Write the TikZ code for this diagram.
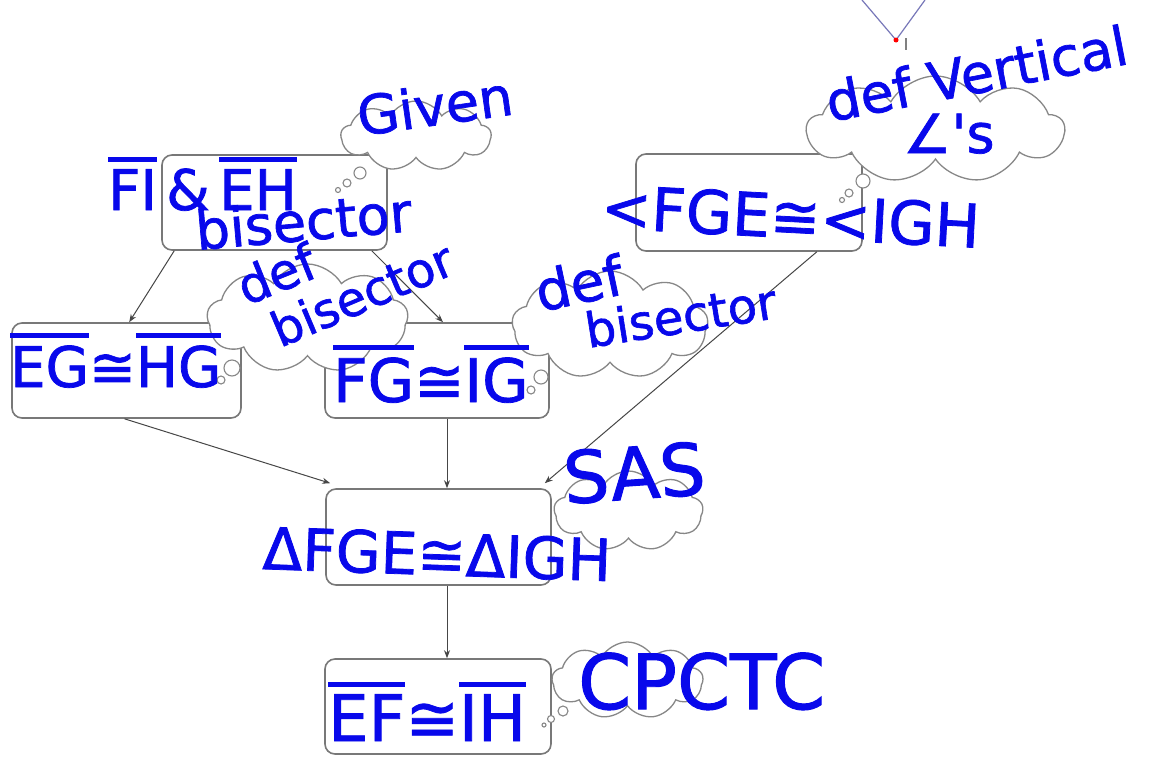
\documentclass[tikz,border=0pt]{standalone}
\usepackage{fontspec}
\setmainfont{DejaVu Sans}
\newfontfamily\handfont{DejaVu Sans}[FakeBold=1.3]
\usetikzlibrary{shapes.symbols,arrows.meta}
\definecolor{handblue}{RGB}{8,8,235}
\definecolor{boxgray}{RGB}{120,120,120}
\definecolor{cloudgray}{RGB}{135,135,135}
\definecolor{arrgray}{RGB}{70,70,70}
\definecolor{vlinecol}{RGB}{120,120,185}
\newcommand\ovl[1]{\leavevmode\vbox{\hrule height 5.5pt\kern 7pt\hbox{#1}}}
\newcommand\hs[1]{\handfont\fontsize{#1}{#1}\selectfont}
\begin{document}
\begin{tikzpicture}[x=1pt,y=-1pt,
 proofbox/.style={draw=boxgray,line width=1.6pt,rounded corners=10pt,fill=white,inner sep=0pt},
 thought/.style={cloud,cloud puffs=9,cloud puff arc=120,cloud ignores aspect,draw=cloudgray,line width=1.3pt,fill=white,inner sep=0pt},
 bubble/.style={circle,draw=cloudgray,line width=1.1pt,fill=white,inner sep=0pt},
 flow/.style={draw=arrgray,line width=1pt,-{Stealth[length=8pt,width=6pt]}},
 hand/.style={text=handblue,inner sep=0pt,anchor=base west}]

\path[fill=white] (0,0) rectangle (1159,761);
\useasboundingbox (0,0) rectangle (1159,761);

% top V fragment
\coordinate (vL) at (862,0);
\coordinate (vB) at (896,40);
\coordinate (vR) at (925,0);
\draw[vlinecol,line width=1.2pt] (vL) -- (vB) -- (vR);
\fill[red] (vB) circle (2.5pt);
\coordinate (tk1) at (906,38);
\coordinate (tk2) at (906,50);
\draw[gray,line width=1.5pt] (tk1) -- (tk2);

% boxes
\node[proofbox,minimum width=225pt,minimum height=95pt] (b1) at (274.5,202.5) {};
\node[proofbox,minimum width=226pt,minimum height=97pt] (b2) at (749,202.5) {};
\node[proofbox,minimum width=229pt,minimum height=95pt] (b3) at (126.5,370.5) {};
\node[proofbox,minimum width=224pt,minimum height=95pt] (b4) at (437,370.5) {};
\node[proofbox,minimum width=225pt,minimum height=96pt] (b5) at (438.5,537) {};
\node[proofbox,minimum width=226pt,minimum height=95pt] (b6) at (438,706.5) {};

% connectors
\draw[flow] ([xshift=13pt]b1.south west) -- ([xshift=118pt]b3.north west);
\draw[flow] ([xshift=-16pt]b1.south east) -- ([xshift=6pt]b4.north);
\draw[flow] ([xshift=-46pt]b2.south east) -- ([xshift=-7pt,yshift=5pt]b5.north east);
\draw[flow] ([xshift=-2pt]b3.south) -- ([xshift=5pt,yshift=5pt]b5.north west);
\draw[flow] ([xshift=10pt]b4.south) -- ([xshift=8.5pt]b5.north);
\draw[flow] ([xshift=8.5pt]b5.south) -- ([xshift=9pt]b6.north);

% thought clouds
\node[thought,minimum width=150pt,minimum height=70pt] (c1) at (416,136) {};
\node[thought,minimum width=257pt,minimum height=107pt] (c2) at (935.5,129.5) {};
\node[thought,minimum width=201pt,minimum height=109pt] (c3) at (307.5,318.5) {};
\node[thought,minimum width=196pt,minimum height=108pt] (c4) at (610,325) {};
\node[thought,minimum width=149pt,minimum height=80pt] (c5) at (628.5,511) {};
\node[thought,minimum width=151pt,minimum height=77pt] (c6) at (627.5,680.5) {};

% bubbles
\node[bubble,minimum size=12pt] (p11) at (360,173) {};
\node[bubble,minimum size=8pt] (p12) at (347,183) {};
\node[bubble,minimum size=5pt] (p13) at (338,190) {};
\node[bubble,minimum size=14pt] (p21) at (863,181) {};
\node[bubble,minimum size=8pt] (p22) at (849,193) {};
\node[bubble,minimum size=5pt] (p23) at (842,200) {};
\node[bubble,minimum size=16pt] (p31) at (232,368) {};
\node[bubble,minimum size=8pt] (p32) at (221,380) {};
\node[bubble,minimum size=14pt] (p41) at (541,377) {};
\node[bubble,minimum size=8pt] (p42) at (531,390) {};
\node[bubble,minimum size=10pt] (p61) at (563,711) {};
\node[bubble,minimum size=7pt] (p62) at (551,719) {};
\node[bubble,minimum size=4pt] (p63) at (544,725) {};

% handwritten texts
\node[hand,font=\hs{56}] (t1) at (108,210) {\ovl{FI}\,\&\,\ovl{EH}};
\node[hand,font=\hs{54},rotate=5] (t2) at (197,250) {bisector};
\node[hand,font=\hs{54},rotate=8] (t3) at (360,136) {Given};
\node[hand,font=\hs{54},rotate=11] (t4) at (830,122) {def Vertical};
\node[hand,font=\hs{54}] (t5) at (903,153) {∠'s};
\node[hand,font=\hs{60},rotate=-3] (t6) at (600,228) {<FGE≅<IGH};
\node[hand,font=\hs{50},rotate=22] (t7) at (246,306) {def};
\node[hand,font=\hs{48},rotate=23] (t8) at (280,348) {bisector};
\node[hand,font=\hs{56}] (t9) at (10,387) {\ovl{EG}≅\ovl{HG}};
\node[hand,font=\hs{60}] (t10) at (333,402) {\ovl{FG}≅\ovl{IG}};
\node[hand,font=\hs{55},rotate=12] (t11) at (540,312) {def};
\node[hand,font=\hs{48},rotate=9] (t12) at (588,348) {bisector};
\node[hand,font=\hs{72},rotate=4] (t13) at (565,504) {SAS};
\node[hand,font=\hs{58},rotate=-2] (t14) at (262,569) {ΔFGE≅ΔIGH};
\node[hand,font=\hs{64}] (t15) at (328,741) {\ovl{EF}≅\ovl{IH}};
\node[hand,font=\hs{76}] (t16) at (578,709) {CPCTC};
\end{tikzpicture}
\end{document}
